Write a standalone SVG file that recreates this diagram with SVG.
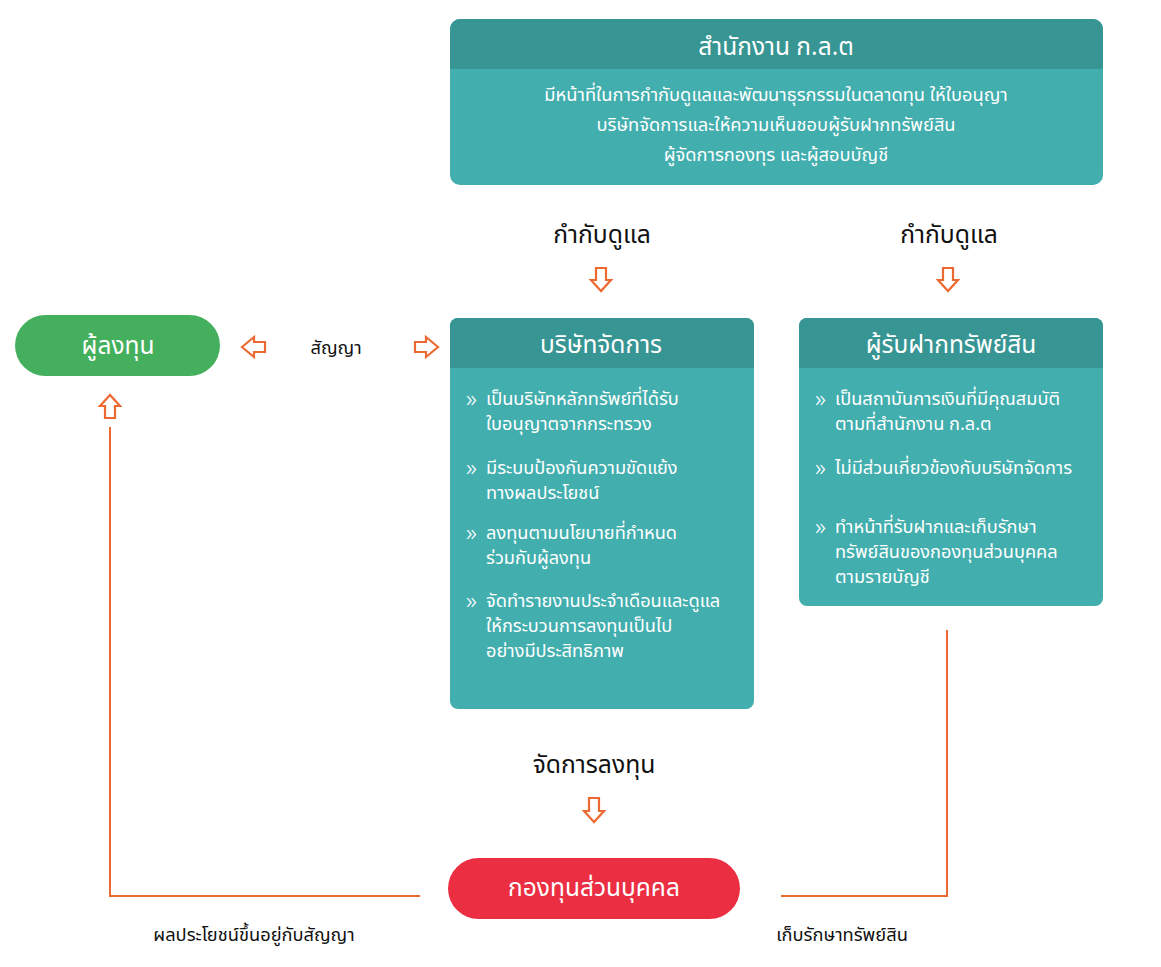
<svg xmlns="http://www.w3.org/2000/svg" width="1161" height="967" viewBox="0 0 1161 967">
<style>
text{font-family:"Noto Sans Thai","Noto Sans","DejaVu Sans",sans-serif;}
.hd{fill:#ffffff;font-size:24.5px;text-anchor:middle;}
.bd{fill:#ffffff;font-size:18.2px;}
.bl{fill:#ffffff;font-size:24px;font-weight:300;}
.bc{fill:#ffffff;font-size:18.3px;text-anchor:middle;}
.lb{fill:#111111;font-size:24.7px;text-anchor:middle;}
.sl{fill:#111111;font-size:18.3px;text-anchor:middle;}
.body{fill:#42aeae;}
.head{fill:#379593;}
.ar{fill:#ffffff;stroke:#ec6a32;stroke-width:2.2;stroke-linejoin:miter;}
.ln{fill:none;stroke:#ec6a32;stroke-width:2;}
</style>
<rect width="1161" height="967" fill="#ffffff"/>

<g id="sec">
<rect class="body" x="450" y="19" width="653" height="166" rx="10"/>
<path class="head" d="M450 69 V29 a10 10 0 0 1 10 -10 H1093 a10 10 0 0 1 10 10 V69 Z"/>
<text class="hd" x="776" y="55">สำนักงาน ก.ล.ต</text>
<text class="bc" x="776" y="101">มีหน้าที่ในการกำกับดูแลและพัฒนาธุรกรรมในตลาดทุน ให้ใบอนุญา</text>
<text class="bc" x="776" y="131">บริษัทจัดการและให้ความเห็นชอบผู้รับฝากทรัพย์สิน</text>
<text class="bc" x="776" y="161">ผู้จัดการกองทุร และผู้สอบบัญชี</text>
</g>

<g id="mgmt">
<rect class="body" x="450" y="318" width="304" height="391" rx="8"/>
<path class="head" d="M450 368 V326 a8 8 0 0 1 8 -8 H746 a8 8 0 0 1 8 8 V368 Z"/>
<text class="hd" x="601" y="353">บริษัทจัดการ</text>
<text class="bl" x="466" y="407">»</text>
<text class="bd" x="486" y="405">เป็นบริษัทหลักทรัพย์ที่ได้รับ</text>
<text class="bd" x="486" y="430">ใบอนุญาตจากกระทรวง</text>
<text class="bl" x="466" y="476">»</text>
<text class="bd" x="486" y="474">มีระบบป้องกันความขัดแย้ง</text>
<text class="bd" x="486" y="499">ทางผลประโยชน์</text>
<text class="bl" x="466" y="541">»</text>
<text class="bd" x="486" y="539">ลงทุนตามนโยบายที่กำหนด</text>
<text class="bd" x="486" y="564">ร่วมกับผู้ลงทุน</text>
<text class="bl" x="466" y="609">»</text>
<text class="bd" x="486" y="607">จัดทำรายงานประจำเดือนและดูแล</text>
<text class="bd" x="486" y="632">ให้กระบวนการลงทุนเป็นไป</text>
<text class="bd" x="486" y="657">อย่างมีประสิทธิภาพ</text>
</g>

<g id="custodian">
<rect class="body" x="799" y="318" width="304" height="288" rx="8"/>
<path class="head" d="M799 368 V326 a8 8 0 0 1 8 -8 H1095 a8 8 0 0 1 8 8 V368 Z"/>
<text class="hd" x="951" y="353">ผู้รับฝากทรัพย์สิน</text>
<text class="bl" x="815" y="407">»</text>
<text class="bd" x="835" y="405">เป็นสถาบันการเงินที่มีคุณสมบัติ</text>
<text class="bd" x="835" y="430">ตามที่สำนักงาน ก.ล.ต</text>
<text class="bl" x="815" y="476">»</text>
<text class="bd" x="835" y="474">ไม่มีส่วนเกี่ยวข้องกับบริษัทจัดการ</text>
<text class="bl" x="815" y="535">»</text>
<text class="bd" x="835" y="533">ทำหน้าที่รับฝากและเก็บรักษา</text>
<text class="bd" x="835" y="558">ทรัพย์สินของกองทุนส่วนบุคคล</text>
<text class="bd" x="835" y="583">ตามรายบัญชี</text>
</g>

<g id="investor">
<rect x="15" y="315" width="205" height="61" rx="30.5" fill="#44b05d"/>
<text class="hd" x="118" y="354">ผู้ลงทุน</text>
</g>

<g id="fund">
<rect x="448" y="858" width="292" height="61" rx="30.5" fill="#eb2e41"/>
<text class="hd" x="594" y="896">กองทุนส่วนบุคคล</text>
</g>

<g id="connectors">
<path class="ln" d="M110 427 V896 H420"/>
<path class="ln" d="M947 630 V896 H781"/>
<path class="ar" d="M242 347 L254 337 V342 H265 V352 H254 V357 Z"/>
<path class="ar" d="M438 347 L426 337 V342 H415 V352 H426 V357 Z"/>
<path class="ar" d="M601 291 L591 280 H596 V268 H606 V280 H611 Z"/>
<path class="ar" d="M948 291 L938 280 H943 V268 H953 V280 H958 Z"/>
<path class="ar" d="M594 822 L584 811 H589 V798 H599 V811 H604 Z"/>
<path class="ar" d="M110 395 L100 406 H105 V418 H115 V406 H120 Z"/>
<text class="lb" x="602" y="243">กำกับดูแล</text>
<text class="lb" x="949" y="243">กำกับดูแล</text>
<text class="sl" x="336" y="354">สัญญา</text>
<text class="lb" x="594" y="773">จัดการลงทุน</text>
<text class="sl" x="254" y="941">ผลประโยชน์ขึ้นอยู่กับสัญญา</text>
<text class="sl" x="842" y="941">เก็บรักษาทรัพย์สิน</text>
</g>
</svg>
